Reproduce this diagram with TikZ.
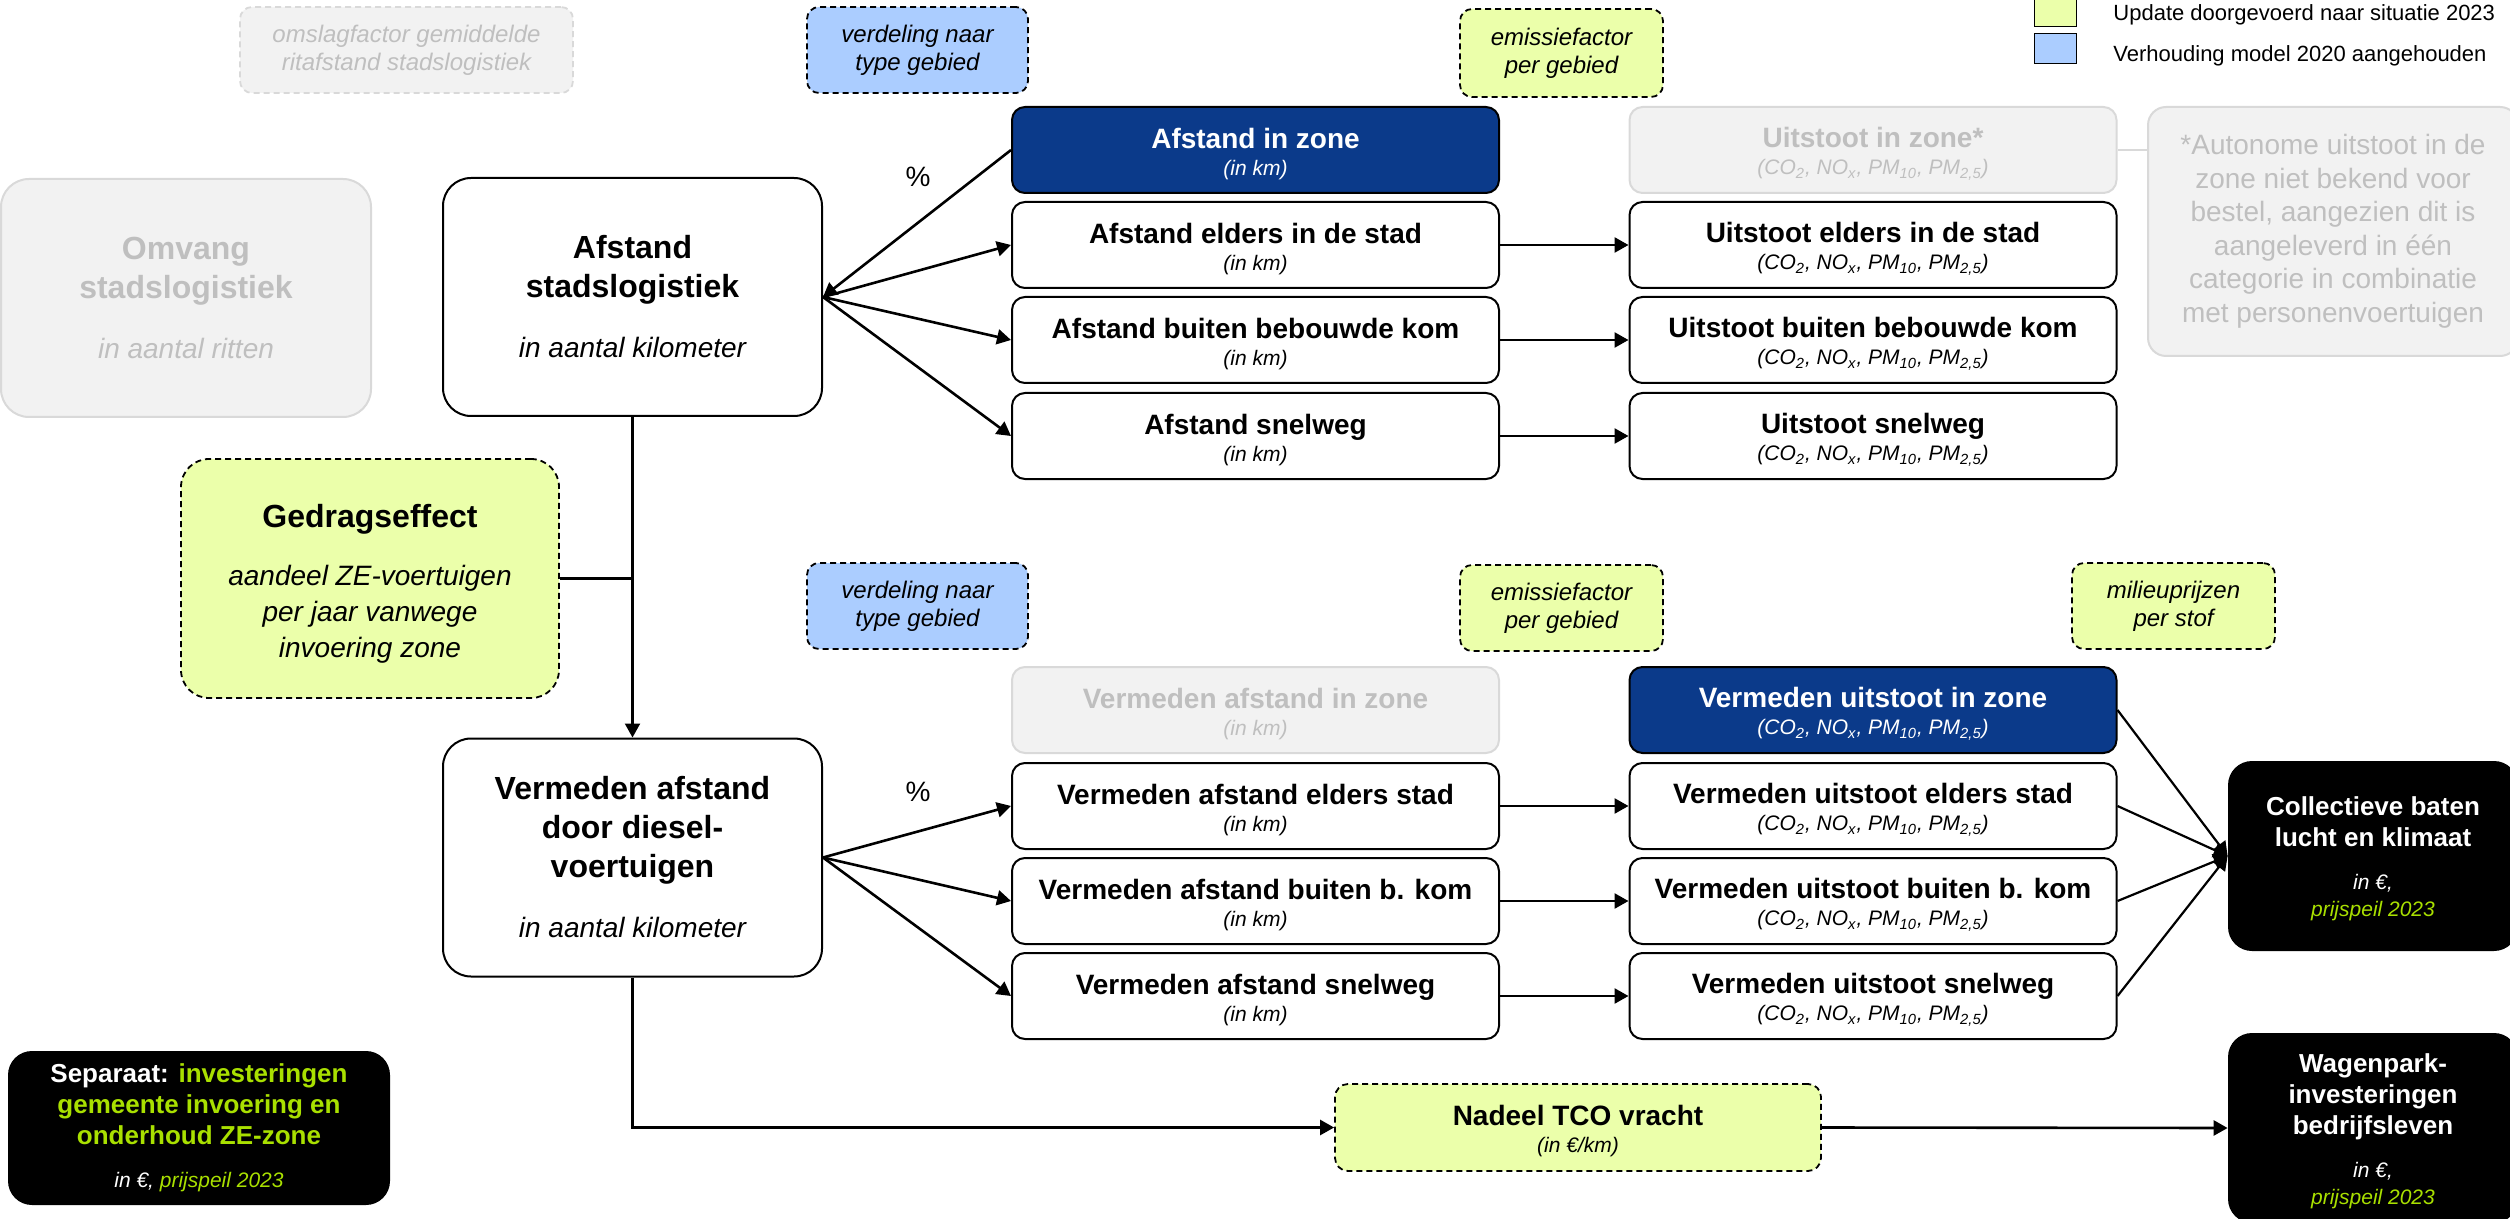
\documentclass[tikz,border=0pt]{standalone}
\usepackage{fontspec}
\setmainfont{Liberation Sans}
\usepackage{xcolor}
\usepackage{tikz}
\usetikzlibrary{positioning}
\usetikzlibrary{arrows.meta}

\definecolor{zoneblauw}{HTML}{0B3A8A}
\definecolor{updategroen}{HTML}{EBFFAA}
\definecolor{modelblauw}{HTML}{ABCDFF}
\definecolor{limoen}{HTML}{A9E000}
\definecolor{grijsvlak}{HTML}{F2F2F2}
\definecolor{grijsrand}{HTML}{D9D9D9}
\definecolor{grijstekst}{HTML}{BFBFBF}

\newcommand{\fsize}[2]{\fontsize{#1}{#2}\selectfont}
\newcommand{\hoog}[1][14pt]{\rule{0pt}{#1}}
\newcommand{\eenheid}[1]{{\normalfont\fsize{10.5pt}{13.5pt}\itshape #1}}
\newcommand{\stoffen}{(CO\textsubscript{2}, NO\textsubscript{x}, PM\textsubscript{10}, PM\textsubscript{2,5})}

\begin{document}
\begin{tikzpicture}[x=0.5pt,y=-0.5pt,
    box/.style={draw,line width=1pt,rounded corners=6.5pt,inner sep=0pt,align=center,
      minimum width=243.5pt,minimum height=43pt,font=\fsize{14pt}{13.5pt}\bfseries},
    grootbox/.style={box,rounded corners=14pt,minimum width=189.5pt,minimum height=119pt,
      font=\fsize{16pt}{19.5pt}\bfseries},
    invoer/.style={draw,line width=0.9pt,dashed,dash pattern=on 3pt off 2pt,rounded corners=6pt,
      inner sep=0pt,align=center,minimum height=43pt,font=\fsize{12pt}{13.85pt}\itshape},
    grijs/.style={fill=grijsvlak,draw=grijsrand,text=grijstekst},
    zone/.style={fill=zoneblauw,draw=black,text=white},
    uitkomst/.style={fill=black,text=white,rounded corners=12pt,inner sep=0pt,align=center,
      font=\fsize{13pt}{15.5pt}\bfseries},
    pijl/.style={-{Triangle[length=7pt,width=7.5pt]},line width=1.3pt}]
  \useasboundingbox (0,0) rectangle (2510,1219);

  %%%%%%%%%%%%%%%%%%%%%%%%%%%%%%%%%%%%%%%%%%%%%%%%%%%%%%%%%%%%%%%%%%%%%%%%%%
  %%% BEGIN: LEGENDA.
  %%%%%%%%%%%%%%%%%%%%%%%%%%%%%%%%%%%%%%%%%%%%%%%%%%%%%%%%%%%%%%%%%%%%%%%%%%
  \node[draw,fill=updategroen,minimum width=21pt,minimum height=15pt] (leg-groen) at (2055,11) {};
  \node[draw,fill=modelblauw,minimum width=21pt,minimum height=15pt] (leg-blauw) at (2055,48) {};
  \node[anchor=west,inner sep=0pt,font=\fsize{11pt}{13pt}] (legtekst-groen) at (2113,15) {Update doorgevoerd naar situatie 2023};
  \node[anchor=west,inner sep=0pt,font=\fsize{11pt}{13pt}] (legtekst-blauw) at (2113,56) {Verhouding model 2020 aangehouden};

  %%%%%%%%%%%%%%%%%%%%%%%%%%%%%%%%%%%%%%%%%%%%%%%%%%%%%%%%%%%%%%%%%%%%%%%%%%
  %%% BEGIN: AFSTAND.
  %%%%%%%%%%%%%%%%%%%%%%%%%%%%%%%%%%%%%%%%%%%%%%%%%%%%%%%%%%%%%%%%%%%%%%%%%%
  % Invoer boven.
  \node[invoer,grijs,minimum width=166.5pt] (omslag) at (406.5,50) {omslagfactor gemiddelde\\ritafstand stadslogistiek};
  \node[invoer,fill=modelblauw,minimum width=110.5pt] (verdeling-boven) at (917.5,50) {verdeling naar\\type gebied};
  \node[invoer,fill=updategroen,minimum width=101.5pt,minimum height=44pt] (emissie-boven) at (1561.5,53) {emissiefactor\\per gebied};

  % Hoofdblokken.
  \node[grootbox,grijs,minimum width=185pt] (omvang) at (186,298) {Omvang\\stadslogistiek\\[10.5pt]{\normalfont\fsize{14pt}{19.5pt}\itshape in aantal ritten}};
  \node[grootbox] (stadslog) at (632.5,297) {Afstand\\stadslogistiek\\[10.5pt]{\normalfont\fsize{14pt}{19.5pt}\itshape in aantal kilometer}};
  \node[font=\fsize{14pt}{16pt}] (pct-boven) at (918,177) {\%};

  % Afstand en uitstoot per gebied.
  \node[box,zone] (afstand-zone) at (1255.5,150) {\hoog Afstand in zone\\\eenheid{(in km)}};
  \node[box,grijs] (uitstoot-zone) at (1873,150) {\hoog Uitstoot in zone*\\\eenheid{\stoffen}};
  \draw[pijl] (afstand-zone.west) -- (stadslog.east);
  \foreach \n/\t/\y in {elders/elders in de stad/245,buiten/buiten bebouwde kom/340,snelweg/snelweg/436}{
    \node[box] (afstand-\n) at (1255.5,\y) {\hoog Afstand \t\\\eenheid{(in km)}};
    \node[box] (uitstoot-\n) at (1873,\y) {\hoog Uitstoot \t\\\eenheid{\stoffen}};
    \draw[pijl] (stadslog.east) -- (afstand-\n.west);
    \draw[pijl] (afstand-\n.east) -- (uitstoot-\n.west);
  }

  % Noot.
  \node[grijs,line width=1pt,rounded corners=9pt,inner sep=0pt,align=center,minimum width=185pt,
    minimum height=124.5pt,font=\fsize{14pt}{16.75pt}] (noot) at (2333,231.5)
    {*Autonome uitstoot in de\\zone niet bekend voor\\bestel, aangezien dit is\\aangeleverd in één\\categorie in combinatie\\met personenvoertuigen};
  \draw[grijsrand,line width=1pt] (uitstoot-zone.east) -- (uitstoot-zone.east -| noot.west);

  %%%%%%%%%%%%%%%%%%%%%%%%%%%%%%%%%%%%%%%%%%%%%%%%%%%%%%%%%%%%%%%%%%%%%%%%%%
  %%% BEGIN: VERMEDEN.
  %%%%%%%%%%%%%%%%%%%%%%%%%%%%%%%%%%%%%%%%%%%%%%%%%%%%%%%%%%%%%%%%%%%%%%%%%%
  % Gedragseffect.
  \node[invoer,fill=updategroen,rounded corners=14pt,minimum width=189pt,minimum height=119.5pt,
    font=\fsize{16pt}{19.5pt}\bfseries] (gedrag) at (370,578.5)
    {\hoog[16.5pt]Gedragseffect\\[9.5pt]{\normalfont\fsize{14pt}{18pt}\itshape aandeel ZE-voertuigen}\\[-1.5pt]{\normalfont\fsize{14pt}{18pt}\itshape per jaar vanwege}\\[-1.5pt]{\normalfont\fsize{14pt}{18pt}\itshape invoering zone}};
  \node[grootbox] (diesel) at (632.5,857.5) {Vermeden afstand\\door diesel-\\voertuigen\\[10.5pt]{\normalfont\fsize{14pt}{19.5pt}\itshape in aantal kilometer}};
  \draw[pijl,line width=1.1pt] (stadslog.south) -- (diesel.north);
  \draw[line width=1.1pt] (gedrag.east) -- (gedrag.east -| stadslog.south);
  \node[font=\fsize{14pt}{16pt}] (pct-onder) at (918,792) {\%};

  % Invoer onder.
  \node[invoer,fill=modelblauw,minimum width=110.5pt] (verdeling-onder) at (917.5,606) {verdeling naar\\type gebied};
  \node[invoer,fill=updategroen,minimum width=101.5pt] (emissie-onder) at (1561.5,608) {emissiefactor\\per gebied};
  \node[invoer,fill=updategroen,minimum width=101.5pt] (milieu) at (2173.5,606) {milieuprijzen\\per stof};

  % Uitkomsten.
  \node[uitkomst,minimum width=145pt,minimum height=95pt] (collectief) at (2373,856)
    {\hoog[12pt]Collectieve baten\\lucht en klimaat\\[5.75pt]{\normalfont\fsize{10.5pt}{13.5pt}\itshape in €,}\\[-2pt]{\normalfont\fsize{10.5pt}{13.5pt}\itshape\color{limoen}prijspeil 2023}};
  \node[uitkomst,minimum width=145pt,minimum height=95pt] (wagenpark) at (2373,1128)
    {\hoog[12.5pt]Wagenpark-\\investeringen\\bedrijfsleven\\[5.75pt]{\normalfont\fsize{10.5pt}{13.5pt}\itshape in €,}\\[-2pt]{\normalfont\fsize{10.5pt}{13.5pt}\itshape\color{limoen}prijspeil 2023}};
  \node[uitkomst,minimum width=191pt,minimum height=77pt] (separaat) at (199,1128)
    {Separaat: {\color{limoen}investeringen}\\{\color{limoen}gemeente invoering en}\\{\color{limoen}onderhoud ZE-zone}\\[6pt]{\normalfont\fsize{10.5pt}{13.5pt}\itshape in €, {\color{limoen}prijspeil 2023}}};

  % Vermeden afstand en uitstoot per gebied.
  \node[box,grijs] (vafstand-zone) at (1255.5,710) {\hoog Vermeden afstand in zone\\\eenheid{(in km)}};
  \node[box,zone] (vuitstoot-zone) at (1873,710) {\hoog Vermeden uitstoot in zone\\\eenheid{\stoffen}};
  \draw[pijl,line width=1.1pt] (vuitstoot-zone.east) -- (collectief.west);
  \foreach \n/\t/\y in {elders/elders stad/806,buiten/buiten b. kom/901,snelweg/snelweg/996}{
    \node[box] (vafstand-\n) at (1255.5,\y) {\hoog Vermeden afstand \t\\\eenheid{(in km)}};
    \node[box] (vuitstoot-\n) at (1873,\y) {\hoog Vermeden uitstoot \t\\\eenheid{\stoffen}};
    \draw[pijl] (diesel.east) -- (vafstand-\n.west);
    \draw[pijl] (vafstand-\n.east) -- (vuitstoot-\n.west);
    \draw[pijl,line width=1.1pt] (vuitstoot-\n.east) -- (collectief.west);
  }

  % Nadeel TCO.
  \node[box,dashed,dash pattern=on 3pt off 2pt,line width=0.9pt,fill=updategroen,minimum width=243pt,minimum height=43.5pt] (nadeel) at (1578,1127.5) {\hoog Nadeel TCO vracht\\\eenheid{(in €/km)}};
  \draw[pijl] (diesel.south) |- (nadeel.west);
  \draw[pijl] (nadeel.east) -- (wagenpark.west);
\end{tikzpicture}
\end{document}
